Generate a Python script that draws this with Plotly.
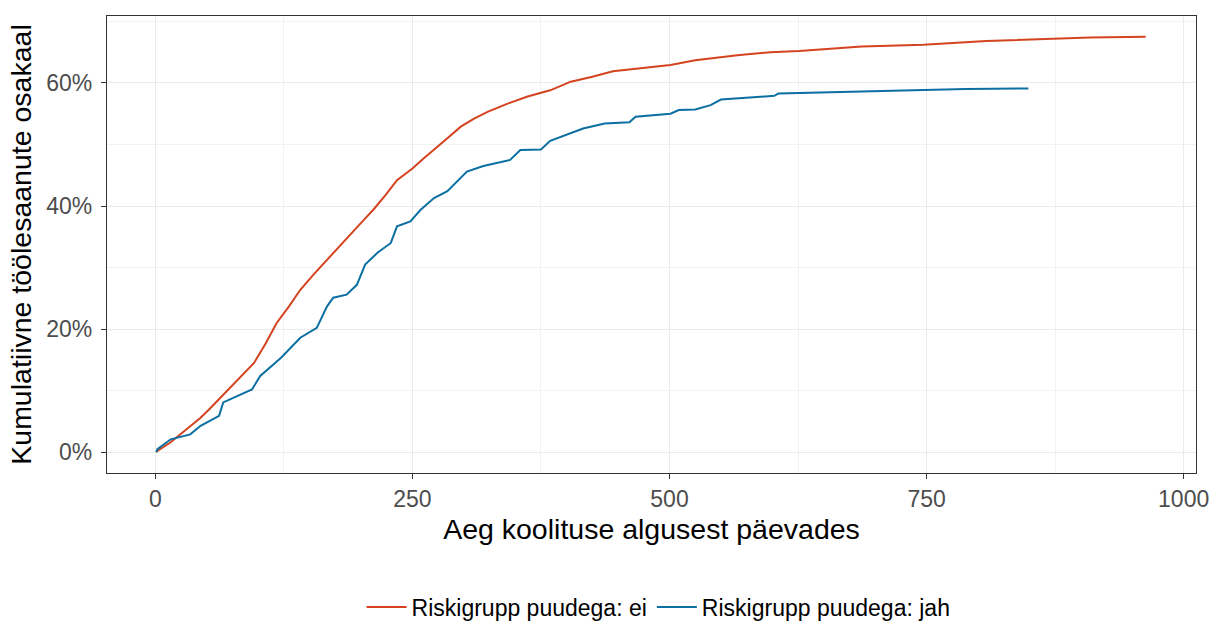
import plotly.graph_objects as go

# Series: Riskigrupp puudega: ei
days_ei = [1, 2, 14, 24, 34, 44, 52, 60, 68, 76, 86, 96, 107, 118, 130, 141, 154, 167, 180,
           193, 203, 212, 224, 235, 243, 250, 260, 271, 284, 297, 310, 323, 342, 362, 384,
           404, 425, 445, 465, 501, 525, 566, 598, 626, 687, 747, 808, 869, 909, 963]
pct_ei = [0.0, 0.2, 1.5, 2.9, 4.2, 5.6, 6.9, 8.3, 9.7, 11.0, 12.7, 14.5, 17.6, 21.0, 23.7, 26.4,
          28.9, 31.3, 33.7, 36.1, 37.8, 39.4, 41.8, 44.2, 45.2, 46.1, 47.6, 49.1, 51.0, 52.9,
          54.2, 55.3, 56.6, 57.8, 58.8, 60.2, 61.0, 61.9, 62.3, 62.9, 63.7, 64.5, 65.0, 65.2,
          65.9, 66.2, 66.8, 67.2, 67.4, 67.5]

# Series: Riskigrupp puudega: jah
days_jah = [1, 2, 15, 34, 44, 62, 66, 79, 94, 102, 122, 141, 157, 167, 173, 186, 196, 204,
            216, 229, 235, 248, 258, 271, 284, 303, 319, 345, 355, 375, 384, 416, 437, 461,
            467, 501, 509, 525, 540, 550, 602, 606, 707, 788, 849]
pct_jah = [0.0, 0.5, 2.1, 2.9, 4.3, 5.9, 8.1, 9.1, 10.2, 12.4, 15.3, 18.6, 20.2, 23.7, 25.1,
           25.6, 27.2, 30.5, 32.4, 34.0, 36.7, 37.5, 39.4, 41.3, 42.4, 45.6, 46.5, 47.5, 49.1,
           49.2, 50.6, 52.6, 53.4, 53.6, 54.5, 55.0, 55.6, 55.7, 56.4, 57.3, 57.9, 58.3, 58.7,
           59.0, 59.1]

series_names = ["Riskigrupp puudega: ei", "Riskigrupp puudega: jah"]
series_colors = ["#D4431F", "#0B6FA2"]

x_ticks = [0, 250, 500, 750, 1000]
y_ticks = [0, 20, 40, 60]
y_tick_labels = ["0%", "20%", "40%", "60%"]

fig = go.Figure()
for name, xs, ys, col in [(series_names[0], days_ei, pct_ei, series_colors[0]),
                          (series_names[1], days_jah, pct_jah, series_colors[1])]:
    fig.add_trace(go.Scatter(x=xs, y=ys, mode="lines", name=name,
                             line=dict(color=col, width=2)))

font_family = "Liberation Sans, Arial, sans-serif"
grid_major = "#EBEBEB"

fig.update_layout(
    width=1210, height=623,
    margin=dict(l=107, r=14, t=16, b=150),
    paper_bgcolor="white", plot_bgcolor="white",
    font=dict(family=font_family, color="black"),
    showlegend=True,
    legend=dict(orientation="h", x=0.5065, xanchor="center", xref="paper",
                y=1 - 607 / 623, yanchor="middle", yref="container",
                font=dict(size=23, color="black"), itemwidth=40, tracegroupgap=0),
    xaxis=dict(
        range=[-47, 1012], tickvals=x_ticks, ticktext=[str(v) for v in x_ticks],
        automargin=False,
        showgrid=True, gridcolor=grid_major, gridwidth=1.3,
        minor=dict(dtick=125, tick0=0, showgrid=True, gridcolor="#F2F2F2", gridwidth=0.8, ticks=""),
        showline=True, mirror=True, linecolor="#333333", linewidth=1.2,
        ticks="outside", ticklen=5, tickcolor="#333333", tickwidth=1.2,
        tickfont=dict(size=23, color="#4D4D4D"),
        title=dict(text="Aeg koolituse algusest päevades", font=dict(size=28.5, color="black"), standoff=8),
        zeroline=False,
    ),
    yaxis=dict(
        range=[-3.375, 70.875], tickvals=y_ticks, ticktext=y_tick_labels,
        automargin=False,
        showgrid=True, gridcolor=grid_major, gridwidth=1.3,
        minor=dict(dtick=10, tick0=0, showgrid=True, gridcolor="#F2F2F2", gridwidth=0.8, ticks=""),
        showline=True, mirror=True, linecolor="#333333", linewidth=1.2,
        ticks="outside", ticklen=5, tickcolor="#333333", tickwidth=1.2,
        ticklabelstandoff=4,
        tickfont=dict(size=23, color="#4D4D4D"),
        title=dict(text="Kumulatiivne töölesaanute osakaal", font=dict(size=28.5, color="black"), standoff=6),
        zeroline=False,
    ),
)

fig.write_html("out.html", config={"displayModeBar": False},
               post_script="document.body.style.margin='0';")
